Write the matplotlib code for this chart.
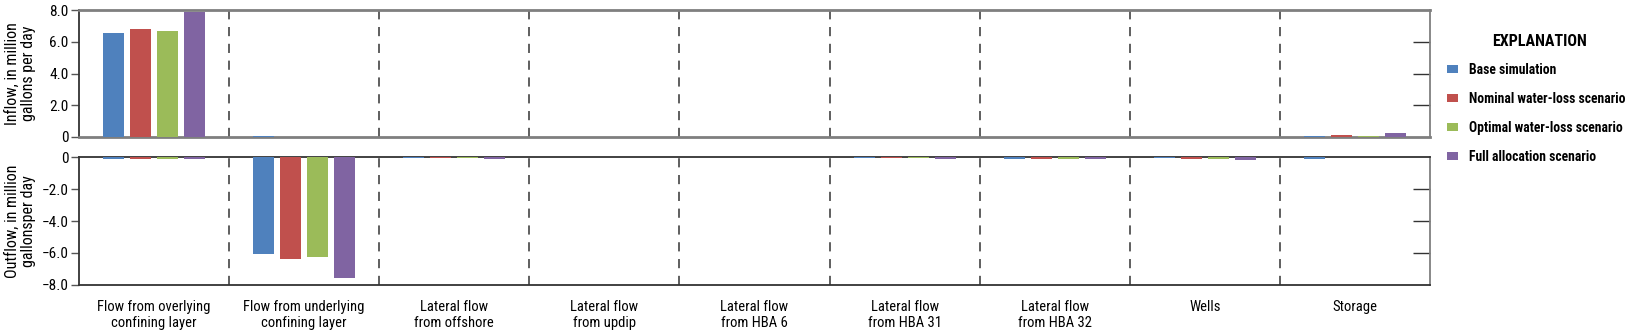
import matplotlib
matplotlib.use("Agg")
import matplotlib.pyplot as plt
from matplotlib.patches import Patch
import numpy as np

plt.rcParams['font.family'] = ['Roboto Condensed', 'Liberation Sans Narrow', 'Liberation Sans', 'DejaVu Sans']

categories = ["Flow from overlying\nconfining layer", "Flow from underlying\nconfining layer",
              "Lateral flow\nfrom offshore", "Lateral flow\nfrom updip", "Lateral flow\nfrom HBA 6",
              "Lateral flow\nfrom HBA 31", "Lateral flow\nfrom HBA 32", "Wells", "Storage"]
series = ["Base simulation", "Nominal water-loss scenario",
          "Optimal water-loss scenario", "Full allocation scenario"]
colors = ["#4F81BD", "#C0504D", "#9BBB59", "#8064A2"]

inflow_base = [6.57, 0.08, 0, 0, 0, 0, 0, 0, 0.07]
inflow_nominal = [6.79, 0.03, 0, 0, 0, 0, 0, 0, 0.10]
inflow_optimal = [6.68, 0.03, 0, 0, 0, 0, 0, 0, 0.07]
inflow_full = [7.87, 0.03, 0, 0, 0, 0, 0, 0, 0.28]

outflow_base = [-0.15, -6.08, -0.08, 0, 0, -0.08, -0.12, -0.05, -0.12]
outflow_nominal = [-0.15, -6.38, -0.08, 0, 0, -0.08, -0.15, -0.10, 0]
outflow_optimal = [-0.15, -6.25, -0.08, 0, 0, -0.08, -0.15, -0.12, 0]
outflow_full = [-0.15, -7.58, -0.12, 0, 0, -0.10, -0.12, -0.18, 0]

inflow = [inflow_base, inflow_nominal, inflow_optimal, inflow_full]
outflow = [outflow_base, outflow_nominal, outflow_optimal, outflow_full]

in_ticks = [0, 2, 4, 6, 8]
in_ticklabels = ["0", "2.0", "4.0", "6.0", "8.0"]
out_ticks = [0, -2, -4, -6, -8]
out_ticklabels = ["0", "\u22122.0", "\u22124.0", "\u22126.0", "\u22128.0"]

W, H = 1633, 331
fig = plt.figure(figsize=(W / 100, H / 100), dpi=100)
L, R = 79 / W, 1430 / W
ax1 = fig.add_axes([L, 1 - 137 / H, R - L, (137 - 10) / H])
ax2 = fig.add_axes([L, 1 - 285 / H, R - L, (285 - 157) / H])

n = len(categories)
x = np.arange(n)
width = 0.14
step = 0.18
offsets = (np.arange(4) - 1.5) * step

for ax, data in ((ax1, inflow), (ax2, outflow)):
    for i, vals in enumerate(data):
        ax.bar(x + offsets[i], vals, width=width, color=colors[i], zorder=3)
    ax.set_xlim(-0.5, n - 0.5)
    for b in range(1, n):
        ax.axvline(b - 0.5, color="#333333", lw=1.1, ls=(0, (6, 5)), zorder=1)
    ax.tick_params(axis="y", direction="out", length=6, width=1, color="#555555",
                   labelsize=11, pad=1.5)
    for s in ax.spines.values():
        s.set_linewidth(1.3)

# top panel
ax1.set_ylim(0, 8)
ax1.set_yticks(in_ticks)
ax1.set_yticklabels(in_ticklabels)
ax1.set_xticks([])
ax1.spines["top"].set_color("#7f7f7f")
ax1.spines["bottom"].set_color("#7f7f7f")
ax1.spines["right"].set_color("#7f7f7f")
ax1.spines["left"].set_color("#333333")
ax1.spines["top"].set_linewidth(2)
ax1.spines["bottom"].set_linewidth(2)
ax1.set_ylabel("Inflow, in million\ngallons per day", fontsize=11.5, linespacing=1.1)
ax1.yaxis.set_label_coords((36 - 79) / (1430 - 79), 0.5)

# bottom panel
ax2.set_ylim(-8, 0)
ax2.set_yticks(out_ticks)
ax2.set_yticklabels(out_ticklabels)
ax2.set_xticks(x)
ax2.set_xticklabels(categories, fontsize=10.5, linespacing=1.15)
ax2.tick_params(axis="x", length=0, pad=11)
ax2.spines["top"].set_color("#333333")
ax2.spines["bottom"].set_color("#333333")
ax2.spines["left"].set_color("#333333")
ax2.spines["right"].set_color("#7f7f7f")
ax2.set_ylabel("Outflow, in million\ngallonsper day", fontsize=11.5, linespacing=1.1)
ax2.yaxis.set_label_coords((36 - 79) / (1430 - 79), 0.5)

# right-side inward ticks
for ax, ticks in ((ax1, in_ticks[1:-1]), (ax2, out_ticks[1:-1])):
    sec = ax.secondary_yaxis("right")
    sec.set_yticks(ticks)
    sec.set_yticklabels([])
    sec.tick_params(direction="in", length=12, width=1, color="#333333")
    sec.spines["right"].set_visible(False)

# legend
fig.text(1540 / W, 1 - 42 / H, "EXPLANATION", ha="center", va="center",
         fontsize=11.5, fontweight="bold")
handles = [Patch(facecolor=c) for c in colors]
leg = fig.legend(handles, series, loc="upper left", bbox_to_anchor=(1447 / W, 1 - 63 / H),
                 frameon=False, fontsize=9.8, handlelength=0.8, handleheight=0.55,
                 labelspacing=1.1, handletextpad=0.85, borderaxespad=0, borderpad=0)
for t in leg.get_texts():
    t.set_fontweight("bold")

fig.savefig("out.png", dpi=100)
